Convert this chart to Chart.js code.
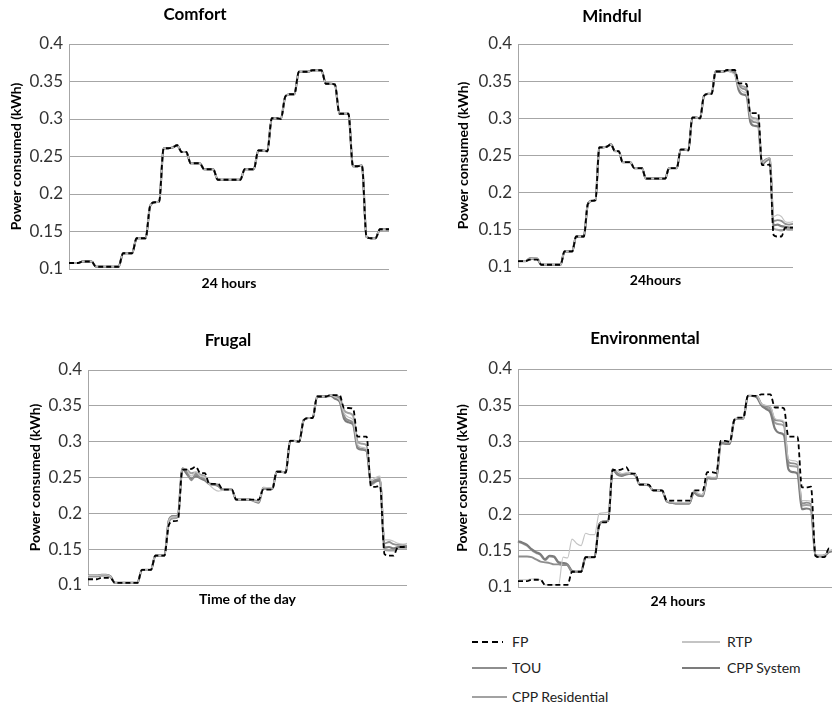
<!DOCTYPE html>
<html>
<head>
<meta charset="utf-8">
<script src="https://cdn.jsdelivr.net/npm/chart.js@4/dist/chart.umd.min.js"></script>
<style>
  html, body { margin: 0; padding: 0; background: #fff; }
  body { width: 832px; height: 705px; overflow: hidden; position: relative; font-family: Lato, "Open Sans", sans-serif; }
  .panel { position: absolute; }
  .key-line { position: absolute; height: 2px; }
  .key-text { position: absolute; font-size: 14px; color: #222; line-height: 16px; transform: translateY(-50%); white-space: nowrap; }
</style>
</head>
<body>
<script>
// Household load over one day, sampled every 20 minutes (three samples per hour).
const slotLabels = [];
for (let h = 0; h < 24; h++) {
  for (const m of ['00', '20', '40']) slotLabels.push(String(h).padStart(2, '0') + ':' + m);
}

const seriesNames = ['FP', 'RTP', 'TOU', 'CPP System', 'CPP Residential'];
const yTickValues = [0.1, 0.15, 0.2, 0.25, 0.3, 0.35, 0.4];
const yTickLabels = ['0.1', '0.15', '0.2', '0.25', '0.3', '0.35', '0.4'];

// Fixed price: no response to the tariff, identical for every consumer profile.
const fpLoad = [
  0.108,0.108,0.108, 0.110,0.110,0.110, 0.103,0.103,0.103, 0.103,0.103,0.103,
  0.121,0.121,0.121, 0.141,0.141,0.141, 0.184,0.189,0.190, 0.261,0.261,0.262,
  0.265,0.256,0.256, 0.241,0.241,0.241, 0.233,0.233,0.233, 0.219,0.219,0.219,
  0.219,0.219,0.219, 0.233,0.233,0.233, 0.258,0.258,0.257, 0.301,0.301,0.300,
  0.330,0.333,0.333, 0.363,0.363,0.363, 0.365,0.365,0.365, 0.347,0.347,0.346,
  0.307,0.307,0.307, 0.237,0.237,0.238, 0.143,0.141,0.141, 0.153,0.153,0.153
];

// Mindful profile
const mindfulRTP = [
  0.108,0.108,0.108, 0.111,0.112,0.112, 0.103,0.103,0.103, 0.103,0.103,0.103,
  0.121,0.121,0.121, 0.141,0.141,0.141, 0.184,0.189,0.190, 0.261,0.261,0.262,
  0.265,0.256,0.256, 0.241,0.241,0.241, 0.233,0.233,0.233, 0.219,0.219,0.219,
  0.219,0.219,0.219, 0.233,0.233,0.233, 0.258,0.258,0.257, 0.301,0.301,0.300,
  0.330,0.333,0.333, 0.363,0.363,0.363, 0.364,0.362,0.358, 0.342,0.336,0.333,
  0.301,0.298,0.296, 0.240,0.244,0.247, 0.168,0.170,0.168, 0.161,0.160,0.161
];
const mindfulTOU = [
  0.108,0.108,0.108, 0.112,0.112,0.111, 0.103,0.103,0.103, 0.103,0.103,0.103,
  0.121,0.121,0.121, 0.141,0.141,0.141, 0.184,0.189,0.190, 0.261,0.261,0.262,
  0.265,0.256,0.256, 0.241,0.241,0.241, 0.233,0.233,0.233, 0.219,0.219,0.219,
  0.219,0.219,0.219, 0.233,0.233,0.233, 0.258,0.258,0.257, 0.301,0.301,0.300,
  0.330,0.333,0.333, 0.363,0.363,0.363, 0.365,0.364,0.362, 0.345,0.340,0.337,
  0.300,0.295,0.293, 0.241,0.245,0.246, 0.162,0.163,0.162, 0.158,0.157,0.158
];
const mindfulCPPS = [
  0.108,0.108,0.108, 0.111,0.112,0.111, 0.103,0.103,0.103, 0.103,0.103,0.103,
  0.121,0.121,0.121, 0.141,0.141,0.141, 0.184,0.189,0.190, 0.261,0.261,0.262,
  0.265,0.256,0.256, 0.241,0.241,0.241, 0.233,0.233,0.233, 0.219,0.219,0.219,
  0.219,0.219,0.219, 0.233,0.233,0.233, 0.258,0.258,0.257, 0.301,0.301,0.300,
  0.330,0.333,0.333, 0.363,0.363,0.363, 0.364,0.363,0.360, 0.338,0.332,0.330,
  0.295,0.290,0.289, 0.238,0.243,0.246, 0.156,0.157,0.155, 0.154,0.153,0.153
];
const mindfulCPPR = [
  0.108,0.108,0.108, 0.110,0.111,0.111, 0.103,0.103,0.103, 0.103,0.103,0.103,
  0.121,0.121,0.121, 0.141,0.141,0.141, 0.184,0.189,0.190, 0.261,0.261,0.262,
  0.265,0.256,0.256, 0.241,0.241,0.241, 0.233,0.233,0.233, 0.219,0.219,0.219,
  0.219,0.219,0.219, 0.233,0.233,0.233, 0.258,0.258,0.257, 0.301,0.301,0.300,
  0.330,0.333,0.333, 0.363,0.363,0.363, 0.365,0.365,0.363, 0.346,0.343,0.340,
  0.303,0.300,0.298, 0.239,0.242,0.245, 0.152,0.150,0.149, 0.151,0.150,0.150
];

// Frugal profile
const frugalRTP = [
  0.113,0.113,0.113, 0.114,0.114,0.112, 0.103,0.103,0.103, 0.103,0.103,0.103,
  0.121,0.121,0.121, 0.141,0.141,0.141, 0.190,0.195,0.196, 0.262,0.260,0.252,
  0.258,0.252,0.250, 0.240,0.234,0.231, 0.232,0.232,0.232, 0.219,0.219,0.219,
  0.219,0.217,0.216, 0.236,0.236,0.235, 0.258,0.258,0.257, 0.301,0.301,0.300,
  0.330,0.333,0.333, 0.363,0.363,0.363, 0.365,0.362,0.358, 0.340,0.334,0.330,
  0.296,0.292,0.290, 0.246,0.250,0.252, 0.163,0.163,0.161, 0.158,0.157,0.158
];
const frugalTOU = [
  0.113,0.113,0.113, 0.114,0.114,0.112, 0.103,0.103,0.103, 0.103,0.103,0.103,
  0.121,0.121,0.121, 0.141,0.141,0.141, 0.191,0.196,0.197, 0.263,0.258,0.246,
  0.255,0.250,0.248, 0.241,0.240,0.239, 0.233,0.233,0.233, 0.219,0.219,0.219,
  0.219,0.218,0.216, 0.236,0.235,0.234, 0.258,0.258,0.257, 0.301,0.301,0.300,
  0.330,0.333,0.333, 0.363,0.363,0.363, 0.365,0.363,0.360, 0.336,0.330,0.326,
  0.293,0.290,0.288, 0.244,0.247,0.248, 0.158,0.160,0.157, 0.156,0.156,0.155
];
const frugalCPPS = [
  0.113,0.113,0.113, 0.114,0.114,0.112, 0.103,0.103,0.103, 0.103,0.103,0.103,
  0.121,0.121,0.121, 0.141,0.141,0.141, 0.190,0.196,0.197, 0.262,0.255,0.248,
  0.252,0.249,0.246, 0.241,0.240,0.238, 0.233,0.233,0.233, 0.219,0.219,0.219,
  0.219,0.217,0.215, 0.235,0.235,0.234, 0.258,0.258,0.257, 0.301,0.301,0.300,
  0.330,0.333,0.333, 0.363,0.363,0.363, 0.364,0.360,0.356, 0.332,0.327,0.324,
  0.291,0.289,0.287, 0.242,0.245,0.246, 0.152,0.153,0.151, 0.153,0.153,0.153
];
const frugalCPPR = [
  0.112,0.112,0.112, 0.113,0.113,0.111, 0.103,0.103,0.103, 0.103,0.103,0.103,
  0.121,0.121,0.121, 0.141,0.141,0.141, 0.188,0.193,0.195, 0.262,0.261,0.256,
  0.257,0.254,0.252, 0.242,0.241,0.240, 0.233,0.233,0.233, 0.219,0.219,0.219,
  0.219,0.218,0.217, 0.234,0.234,0.234, 0.258,0.258,0.257, 0.301,0.301,0.300,
  0.330,0.333,0.333, 0.363,0.363,0.363, 0.365,0.364,0.362, 0.344,0.340,0.336,
  0.300,0.297,0.295, 0.240,0.244,0.246, 0.149,0.148,0.148, 0.152,0.152,0.152
];

// Environmental profile
const envRTP = [
  0.110,0.110,0.110, 0.111,0.111,0.110, 0.103,0.103,0.103, 0.103,0.141,0.140,
  0.166,0.160,0.157, 0.174,0.172,0.172, 0.201,0.202,0.203, 0.262,0.260,0.256,
  0.257,0.256,0.255, 0.241,0.241,0.241, 0.233,0.233,0.233, 0.219,0.217,0.216,
  0.216,0.216,0.216, 0.233,0.229,0.227, 0.252,0.251,0.251, 0.301,0.300,0.299,
  0.331,0.332,0.332, 0.363,0.363,0.363, 0.352,0.350,0.348, 0.332,0.330,0.328,
  0.276,0.274,0.272, 0.219,0.219,0.218, 0.144,0.143,0.144, 0.150,0.151,0.152
];
const envTOU = [
  0.142,0.142,0.142, 0.141,0.138,0.135, 0.134,0.133,0.131, 0.131,0.130,0.130,
  0.121,0.121,0.121, 0.141,0.141,0.141, 0.186,0.190,0.191, 0.262,0.257,0.254,
  0.256,0.256,0.255, 0.241,0.241,0.240, 0.233,0.233,0.232, 0.218,0.216,0.215,
  0.215,0.215,0.215, 0.231,0.227,0.226, 0.251,0.250,0.250, 0.299,0.298,0.298,
  0.330,0.332,0.332, 0.363,0.363,0.363, 0.352,0.349,0.347, 0.330,0.329,0.326,
  0.272,0.270,0.268, 0.215,0.216,0.214, 0.145,0.143,0.144, 0.149,0.151,0.152
];
const envCPPS = [
  0.163,0.161,0.158, 0.152,0.148,0.145, 0.138,0.143,0.142, 0.134,0.133,0.131,
  0.122,0.121,0.121, 0.141,0.141,0.141, 0.186,0.190,0.191, 0.262,0.255,0.253,
  0.255,0.256,0.254, 0.241,0.241,0.240, 0.233,0.233,0.232, 0.218,0.216,0.215,
  0.215,0.215,0.215, 0.230,0.226,0.225, 0.250,0.249,0.249, 0.298,0.297,0.297,
  0.330,0.332,0.332, 0.363,0.363,0.361, 0.350,0.345,0.340, 0.318,0.312,0.309,
  0.262,0.258,0.256, 0.207,0.208,0.206, 0.143,0.142,0.143, 0.148,0.150,0.152
];
const envCPPR = [
  0.162,0.160,0.157, 0.151,0.147,0.144, 0.137,0.142,0.141, 0.133,0.132,0.130,
  0.121,0.121,0.121, 0.141,0.141,0.141, 0.186,0.190,0.191, 0.262,0.256,0.254,
  0.256,0.256,0.255, 0.241,0.241,0.240, 0.233,0.233,0.232, 0.218,0.216,0.215,
  0.215,0.215,0.215, 0.230,0.226,0.226, 0.250,0.250,0.250, 0.298,0.298,0.298,
  0.330,0.332,0.332, 0.363,0.363,0.362, 0.351,0.347,0.344, 0.326,0.324,0.322,
  0.268,0.266,0.265, 0.212,0.213,0.212, 0.144,0.143,0.143, 0.149,0.150,0.152
];

// Line appearance for each tariff, in seriesNames order.
const seriesStyles = [
  { borderColor: '#000000', borderWidth: 1.8, borderDash: [5, 3] },
  { borderColor: '#c4c4c4', borderWidth: 1.2 },
  { borderColor: '#8e8e8e', borderWidth: 1.8 },
  { borderColor: '#7c7c7c', borderWidth: 2.2 },
  { borderColor: '#a2a2a2', borderWidth: 2.0 }
];

const panels = [
  { title: 'Comfort', xTitle: '24 hours',
    // under the Comfort profile every tariff gives the fixed-price load
    series: [fpLoad, fpLoad, fpLoad, fpLoad, fpLoad],
    box: { left: 1, top: 0, width: 388, height: 299, padLeft: 0, titleTop: 4.8, titleBottom: 18.8,
           yWidth: 68, yTitlePad: 6.6, xHeight: 30, xTitlePad: 7.6 } },
  { title: 'Mindful', xTitle: '24hours',
    series: [fpLoad, mindfulRTP, mindfulTOU, mindfulCPPS, mindfulCPPR],
    box: { left: 431, top: 0, width: 362, height: 297, padLeft: 0, titleTop: 6.8, titleBottom: 16.8,
           yWidth: 87, yTitlePad: 23.6, xHeight: 30, xTitlePad: 8.6 } },
  { title: 'Frugal', xTitle: 'Time of the day',
    series: [fpLoad, frugalRTP, frugalTOU, frugalCPPS, frugalCPPR],
    box: { left: 20, top: 320, width: 387, height: 295, padLeft: 29, titleTop: 10.8, titleBottom: 18.8,
           yWidth: 39, yTitlePad: -22.4, xHeight: 30, xTitlePad: 7.6 } },
  { title: 'Environmental', xTitle: '24 hours',
    series: [fpLoad, envRTP, envTOU, envCPPS, envCPPR],
    box: { left: 452, top: 320, width: 386, height: 297, padLeft: 0, titleTop: 8.8, titleBottom: 19.8,
           yWidth: 66, yTitlePad: 1.6, xHeight: 30, xTitlePad: 7.6 } }
];

Chart.defaults.font.family = 'Lato, "Open Sans", sans-serif';
Chart.defaults.color = '#333';

function buildPanel(p) {
  const b = p.box;
  const wrap = document.createElement('div');
  wrap.className = 'panel';
  Object.assign(wrap.style, { left: b.left + 'px', top: b.top + 'px', width: b.width + 'px', height: b.height + 'px' });
  const canvas = document.createElement('canvas');
  wrap.appendChild(canvas);
  document.body.appendChild(wrap);

  new Chart(canvas, {
    type: 'line',
    data: {
      labels: slotLabels,
      datasets: p.series.map((values, i) => Object.assign({
        label: seriesNames[i], data: values, fill: false, pointRadius: 0,
        cubicInterpolationMode: 'monotone'
      }, seriesStyles[i]))
    },
    options: {
      responsive: true, maintainAspectRatio: false, animation: false,
      layout: { padding: { left: b.padLeft, right: 0, top: 0, bottom: 0 } },
      plugins: {
        legend: { display: false },
        tooltip: { enabled: false },
        title: { display: true, text: p.title, color: '#000',
                 font: { size: 17, weight: 'bold' }, padding: { top: b.titleTop, bottom: b.titleBottom } }
      },
      scales: {
        x: {
          type: 'category',
          grid: { display: false },
          border: { display: false },
          ticks: { display: false },
          title: { display: true, text: p.xTitle, color: '#000',
                   font: { size: 14, weight: 'bold' }, padding: { top: 0, bottom: b.xTitlePad } },
          afterFit: (s) => { s.height = b.xHeight; }
        },
        y: {
          min: 0.1, max: 0.4,
          grid: { color: '#a6a6a6', lineWidth: 1, drawTicks: false },
          border: { display: true, color: '#a6a6a6' },
          afterBuildTicks: (s) => { s.ticks = yTickValues.map(v => ({ value: v })); },
          ticks: { padding: 6, color: '#333', font: { size: 17 }, callback: (v, i) => yTickLabels[i] },
          title: { display: true, text: 'Power consumed (kWh)', color: '#000',
                   font: { size: 14, weight: 'bold' }, padding: { top: b.yTitlePad, bottom: 0 } },
          afterFit: (s) => { s.width = b.yWidth; }
        }
      }
    }
  });
}

panels.forEach(buildPanel);

// Legend below the Environmental panel
const keyItems = [
  { name: 'FP', x: 472, w: 31, y: 642, tx: 512 },
  { name: 'RTP', x: 682, w: 38, y: 642, tx: 727 },
  { name: 'TOU', x: 472, w: 35, y: 668, tx: 512 },
  { name: 'CPP System', x: 682, w: 38, y: 668, tx: 727 },
  { name: 'CPP Residential', x: 472, w: 35, y: 697, tx: 512 }
];
keyItems.forEach((k) => {
  const i = seriesNames.indexOf(k.name);
  const st = seriesStyles[i];
  const line = document.createElement('div');
  line.className = 'key-line';
  line.style.left = k.x + 'px';
  line.style.top = (k.y - 1) + 'px';
  line.style.width = k.w + 'px';
  line.style.background = st.borderDash
    ? 'repeating-linear-gradient(90deg,' + st.borderColor + ' 0 6px, transparent 6px 10px)'
    : st.borderColor;
  document.body.appendChild(line);
  const txt = document.createElement('div');
  txt.className = 'key-text';
  txt.style.left = k.tx + 'px';
  txt.style.top = k.y + 'px';
  txt.textContent = k.name;
  document.body.appendChild(txt);
});
</script>
</body>
</html>
